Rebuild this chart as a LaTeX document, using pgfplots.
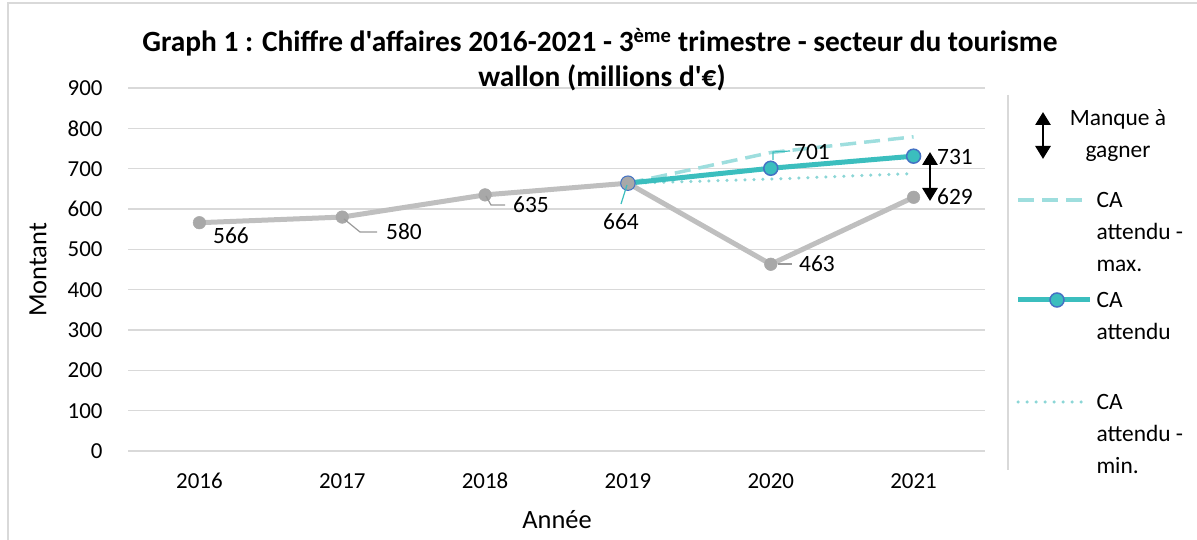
\documentclass[border=0pt]{standalone}
\usepackage{fontspec}
\setmainfont{Carlito}
\newfontfamily\calibri{Carlito}
\usepackage{pgfplots}
\pgfplotsset{compat=1.18}
\usetikzlibrary{arrows.meta}
\definecolor{grayline}{RGB}{191,191,191}
\definecolor{graymark}{RGB}{168,168,168}
\definecolor{teal1}{RGB}{59,190,190}
\definecolor{tealedge}{RGB}{68,114,196}
\definecolor{tealmax}{RGB}{158,222,222}
\definecolor{tealmin}{RGB}{140,214,214}
\definecolor{gridc}{RGB}{217,217,217}
\begin{document}
\begin{tikzpicture}[x=1bp,y=1bp,font=\calibri\fontsize{23.5}{28}\selectfont]
\useasboundingbox (0,0) rectangle (1197,540);
\draw[gridc, line width=1.5bp] (8,-5) -- (8,537) -- (1200,537);
\begin{axis}[
  at={(128bp,89bp)}, anchor=south west,
  scale only axis, width=857bp, height=363bp,
  xmin=-0.5, xmax=5.5, ymin=0, ymax=900,
  axis line style={draw=none},
  major tick length=0pt,
  ymajorgrids, grid style={gridc, line width=1.5bp},
  xtick={0,1,2,3,4,5},
  xticklabels={2016,2017,2018,2019,2020,2021},
  ytick={0,100,200,300,400,500,600,700,800,900},
  tick label style={font=\calibri\fontsize{23}{28}\selectfont},
  /pgf/number format/assume math mode=true,
  yticklabel style={xshift=-22bp},
  xticklabel style={yshift=-19bp, text height=15bp, text depth=0bp},
  clip=false,
]
\addplot[tealmax, line width=3.5bp, dash pattern=on 16bp off 8bp] coordinates {(3,664)(4,740)(5,779)};
\addplot[tealmin, line width=3.5bp, line cap=round, dash pattern=on 0bp off 9bp] coordinates {(3,664)(4,674)(5,688)};
\addplot[teal1, line width=5bp, mark=*, mark size=7bp, mark options={fill=teal1, draw=tealedge, line width=1.5bp}] coordinates {(3,664)(4,701)(5,731)};
\addplot[grayline, line width=5bp, mark=*, mark size=6.3bp, mark options={fill=graymark, draw=graymark, line width=0.5bp}] coordinates {(0,566)(1,580)(2,635)(3,664)(4,463)(5,629)};
\end{axis}
% title
\node[anchor=base, font=\calibri\fontsize{29.5}{34}\selectfont\bfseries] at (600,488) {Graph 1 : Chiffre d'affaires 2016-2021 - 3\textsuperscript{ème} trimestre - secteur du tourisme};
\node[anchor=base, font=\calibri\fontsize{29.5}{34}\selectfont\bfseries] at (602,453) {wallon (millions d'€)};
% axis titles
\node[rotate=90, font=\calibri\fontsize{26.5}{30}\selectfont] at (38,270) {Montant};
\node[font=\calibri\fontsize{26.5}{30}\selectfont] at (557,20) {Année};
% data labels
\node at (231,304) {566};
\draw[gray!80, line width=1.2bp] (344,321) -- (360,308) -- (377,308);
\node at (404,308) {580};
\draw[gray!80, line width=1.2bp] (486,344) -- (491,335) -- (505,335);
\node at (531,335) {635};
\draw[teal1, line width=1.2bp] (627,355) -- (621,336);
\node at (621,318) {664};
\draw[gray!80, line width=1.2bp] (778,276) -- (792,276);
\node at (817,276) {463};
\draw[teal1, line width=1.2bp] (773,380) -- (773,388) -- (790,389);
\node at (812,388) {701};
\node at (955,383) {731};
\node at (955,343) {629};
\draw[line width=2.8bp, {Triangle[length=13bp,width=15bp]}-{Triangle[length=13bp,width=15bp]}] (930,388) -- (930,339);
% legend
\draw[gridc, line width=1.5bp] (1008,445) -- (1008,70);
\draw[line width=2.8bp, {Triangle[length=13bp,width=15bp]}-{Triangle[length=13bp,width=15bp]}] (1043,428) -- (1043,381);
\begin{scope}[font=\calibri\fontsize{23.5}{32}\selectfont]
\node[anchor=base] at (1118,414) {Manque à};
\node[anchor=base] at (1118,382) {gagner};
\draw[tealmax, line width=3.5bp, dash pattern=on 16bp off 8bp] (1018,340) -- (1090,340);
\node[anchor=base west] at (1093,332) {CA};
\node[anchor=base west] at (1093,300) {attendu -};
\node[anchor=base west] at (1093,268) {max.};
\draw[teal1, line width=5bp] (1018,240) -- (1090,240);
\draw[tealedge, fill=teal1, line width=1.5bp] (1057,240) circle (7bp);
\node[anchor=base west] at (1093,232) {CA};
\node[anchor=base west] at (1093,200) {attendu};
\draw[tealmin, line width=3.5bp, line cap=round, dash pattern=on 0bp off 9bp] (1018,138) -- (1083,138);
\node[anchor=base west] at (1093,130) {CA};
\node[anchor=base west] at (1093,98) {attendu -};
\node[anchor=base west] at (1093,66) {min.};
\end{scope}
\end{tikzpicture}
\end{document}
